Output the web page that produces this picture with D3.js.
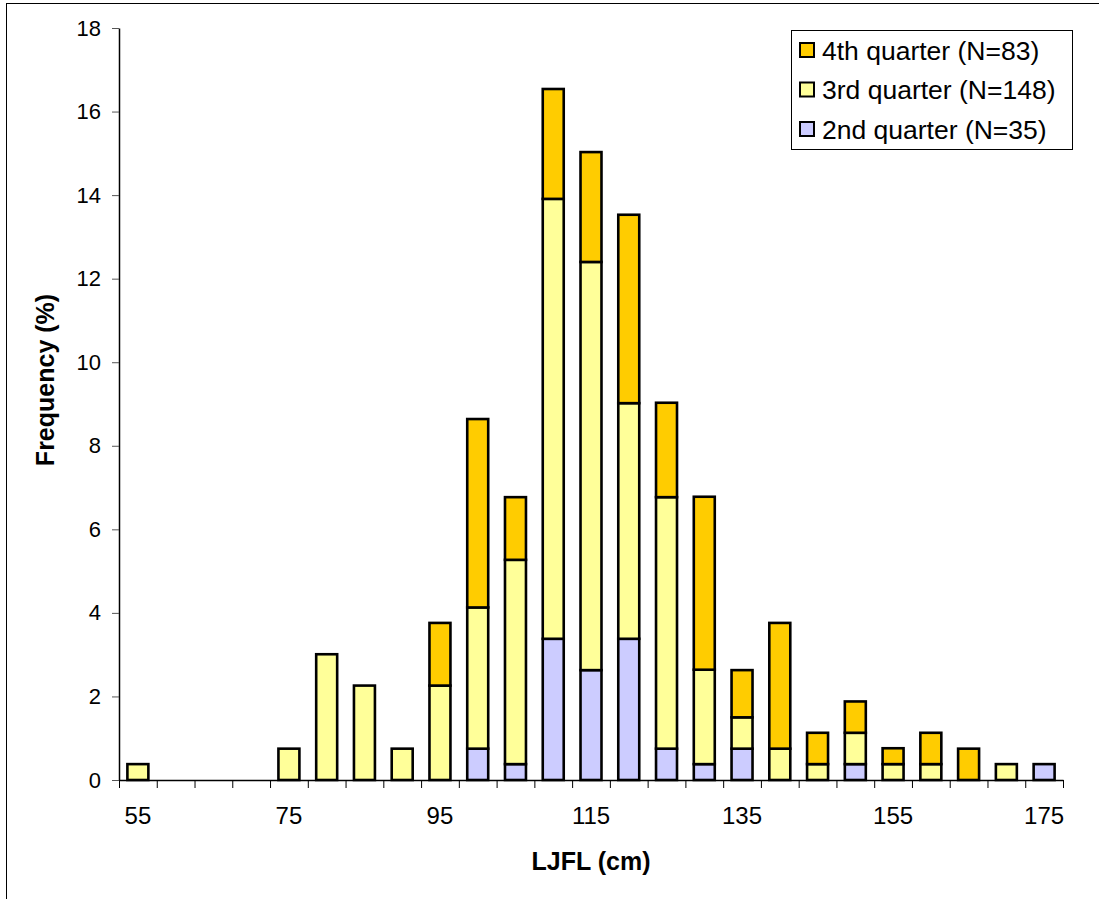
<!DOCTYPE html>
<meta charset="utf-8">
<style>
  body { margin: 0; background: #fff; }
  text { font-family: "Liberation Sans", Arial, sans-serif; fill: #000; }
</style>
<svg width="1099" height="899"></svg>
<script src="https://cdn.jsdelivr.net/npm/d3@7"></script>
<script>
// length classes (LJFL, cm)
var lengths = [55, 60, 65, 70, 75, 80, 85, 90, 95, 100, 105, 110, 115, 120,
               125, 130, 135, 140, 145, 150, 155, 160, 165, 170, 175];
// frequency (%) per quarter
var q2 = [0, 0, 0, 0, 0, 0, 0, 0, 0, 0.75, 0.38, 3.38, 2.63, 3.38,
          0.75, 0.38, 0.75, 0, 0, 0.38, 0, 0, 0, 0, 0.38];
var q3 = [0.38, 0, 0, 0, 0.75, 3.01, 2.26, 0.75, 2.26, 3.38, 4.89, 10.53, 9.77, 5.64,
          6.02, 2.26, 0.75, 0.75, 0.38, 0.75, 0.38, 0.38, 0, 0.38, 0];
var q4 = [0, 0, 0, 0, 0, 0, 0, 0, 1.50, 4.51, 1.50, 2.63, 2.63, 4.51,
          2.26, 4.14, 1.13, 3.01, 0.75, 0.75, 0.38, 0.75, 0.75, 0, 0];
var xLabels = [55, 75, 95, 115, 135, 155, 175];
var yTicks = [0, 2, 4, 6, 8, 10, 12, 14, 16, 18];
var seriesNames = ["4th quarter (N=83)", "3rd quarter (N=148)", "2nd quarter (N=35)"];
var colors = {q2: "#ccccff", q3: "#ffff99", q4: "#ffcc00"};

var svg = d3.select("svg"),
    margin = {top: 28, right: 36, bottom: 119, left: 119},
    width = +svg.attr("width"),
    height = +svg.attr("height");

// outer chart frame (only left/top edges are inside the picture)
svg.append("rect")
    .attr("x", 6.5).attr("y", 3.5)
    .attr("width", width).attr("height", height)
    .attr("fill", "none").attr("stroke", "#000").attr("stroke-width", 1);

var data = lengths.map(function(l, i) {
    return {len: l, q2: q2[i], q3: q3[i], q4: q4[i]};
});

var series = d3.stack().keys(["q2", "q3", "q4"])(data);

// excel style gap width 80%
var x = d3.scaleBand()
    .domain(lengths)
    .range([margin.left, width - margin.right])
    .paddingInner(0.8 / 1.8)
    .paddingOuter(0.4 / 1.8);

// category boundaries for tick marks
var xEdge = d3.scaleLinear()
    .domain([52.5, 177.5])
    .range([margin.left, width - margin.right]);

var y = d3.scaleLinear()
    .domain([0, 18])
    .range([height - margin.bottom, margin.top]);

svg.append("g")
    .selectAll("g")
    .data(series)
    .enter().append("g")
    .attr("fill", function(d) { return colors[d.key]; })
    .selectAll("rect")
    .data(function(d) { return d.filter(function(p) { return p[1] - p[0] > 0; }); })
    .enter().append("rect")
    .attr("x", function(d) { return x(d.data.len); })
    .attr("y", function(d) { return y(d[1]); })
    .attr("width", x.bandwidth())
    .attr("height", function(d) { return y(d[0]) - y(d[1]); })
    .attr("stroke", "#000")
    .attr("stroke-width", 2.6);

// x axis: line + boundary ticks
var edges = d3.range(52.5, 178, 5);
svg.append("g")
    .attr("transform", "translate(0," + y(0) + ")")
    .call(d3.axisBottom(xEdge).tickValues(edges).tickFormat("").tickSize(8).tickSizeOuter(0))
    .call(function(g) {
        g.select(".domain").attr("stroke-width", 1.5);
    });

// x labels
svg.append("g")
    .attr("transform", "translate(0," + y(0) + ")")
    .call(d3.axisBottom(x).tickValues(xLabels).tickSize(0).tickPadding(27))
    .call(function(g) {
        g.select(".domain").remove();
        g.selectAll("text").style("font-size", "24px")
            .style("font-family", "'Liberation Sans', Arial, sans-serif");
    });

// y axis
svg.append("g")
    .attr("transform", "translate(" + margin.left + ",0)")
    .call(d3.axisLeft(y).tickValues(yTicks).tickSize(7).tickPadding(11).tickSizeOuter(0))
    .call(function(g) {
        g.select(".domain").attr("stroke-width", 1.5);
        g.selectAll(".tick line").attr("stroke", "#555");
        g.selectAll("text").style("font-size", "22px")
            .style("font-family", "'Liberation Sans', Arial, sans-serif");
    });

// axis titles
svg.append("text")
    .attr("x", (margin.left + width - margin.right) / 2)
    .attr("y", 870)
    .style("text-anchor", "middle")
    .style("font-size", "25px")
    .style("font-weight", "bold")
    .text("LJFL (cm)");

svg.append("text")
    .attr("transform", "translate(54,380) rotate(-90)")
    .style("text-anchor", "middle")
    .style("font-size", "25px")
    .style("font-weight", "bold")
    .text("Frequency (%)");

// legend
var legend = svg.append("g");
legend.append("rect")
    .attr("x", 791.5).attr("y", 30.5)
    .attr("width", 281).attr("height", 119)
    .attr("fill", "#fff").attr("stroke", "#000").attr("stroke-width", 1);

var legKeys = ["q4", "q3", "q2"];
var item = legend.selectAll("g.item")
    .data(legKeys)
    .enter().append("g")
    .attr("class", "item")
    .attr("transform", function(d, i) { return "translate(0," + (50 + i * 39.5) + ")"; });

item.append("rect")
    .attr("x", 800).attr("y", -7)
    .attr("width", 14).attr("height", 14)
    .attr("fill", function(d) { return colors[d]; })
    .attr("stroke", "#000").attr("stroke-width", 2);

item.append("text")
    .attr("x", 822)
    .attr("dy", "0.36em")
    .style("font-size", "26.5px")
    .text(function(d, i) { return seriesNames[i]; });
</script>
